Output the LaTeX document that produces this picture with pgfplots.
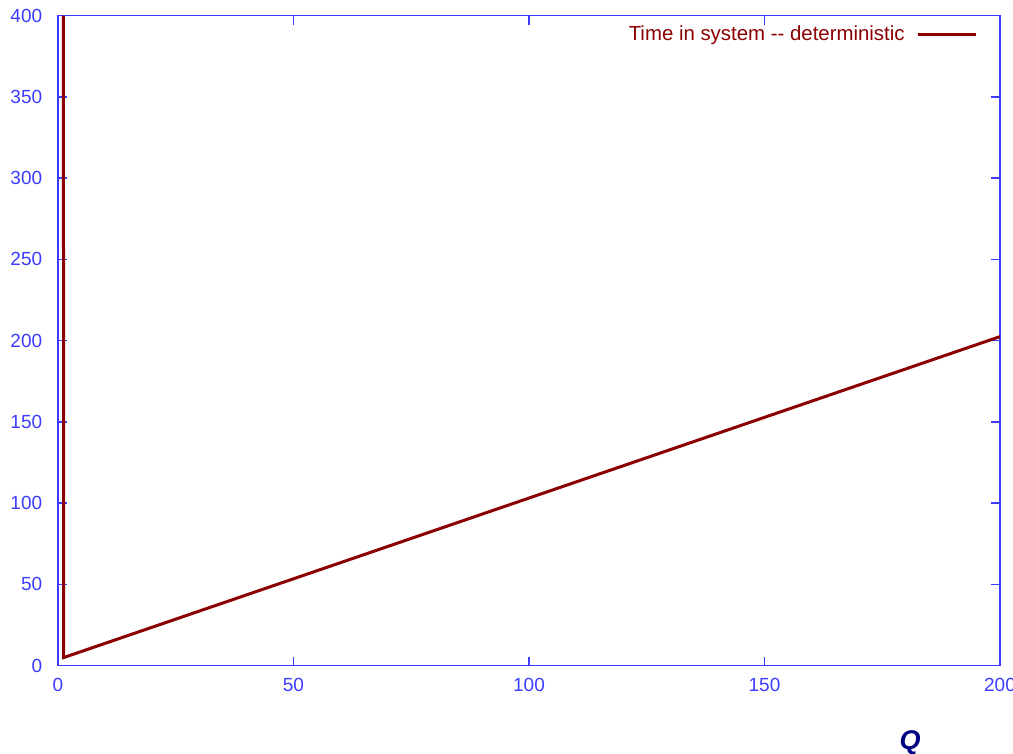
\documentclass[border=0pt]{standalone}
\usepackage{fontspec}
\setmainfont{Liberation Sans}
\usepackage{pgfplots}
\pgfplotsset{compat=1.18}
\definecolor{axblue}{RGB}{60,60,255}
\definecolor{dred}{RGB}{139,0,0}
\definecolor{qnavy}{RGB}{0,0,130}
\begin{document}
\begin{tikzpicture}
\useasboundingbox (-29pt,-44.15pt) rectangle (477.5pt,332.85pt);
\begin{axis}[
  scale only axis,
  width=471pt, height=325pt,
  xmin=0, xmax=200, ymin=0, ymax=400,
  xtick={0,50,100,150,200},
  ytick={0,50,100,150,200,250,300,350,400},
  tick align=inside,
  major tick length=4.5pt,
  axis line style={axblue, line width=0.75pt},
  every tick/.style={axblue, line width=0.75pt},
  /pgf/number format/assume math mode=true,
  ticklabel style={font=\fontsize{9.5}{11}\selectfont, text=axblue, inner sep=0pt},
  yticklabel style={xshift=-7.7pt},
  xticklabel style={yshift=-6.3pt},
  xlabel={\bfseries\itshape Q},
  xlabel style={at={(axis description cs:0.9045,0)}, anchor=base, yshift=-42.15pt, font=\fontsize{13.5}{15}\selectfont, text=qnavy, inner sep=0pt},
  legend plot pos=right,
  legend image code/.code={\draw[#1] (0pt,0pt) -- (29pt,0pt);},
  legend style={at={(rel axis cs:1,1)}, anchor=east, xshift=-11pt, yshift=-9.65pt,
    draw=none, fill=none, inner sep=0pt, column sep=6pt,
    nodes={inner sep=0pt, text=dred, font=\fontsize{10.2}{12}\selectfont}},
]
\addplot[dred, line width=1.5pt, line join=miter] coordinates {(1.15,400) (1.2,5) (200,202.5)};
\addlegendentry{Time in system -{}- deterministic}
\end{axis}
\end{tikzpicture}
\end{document}
